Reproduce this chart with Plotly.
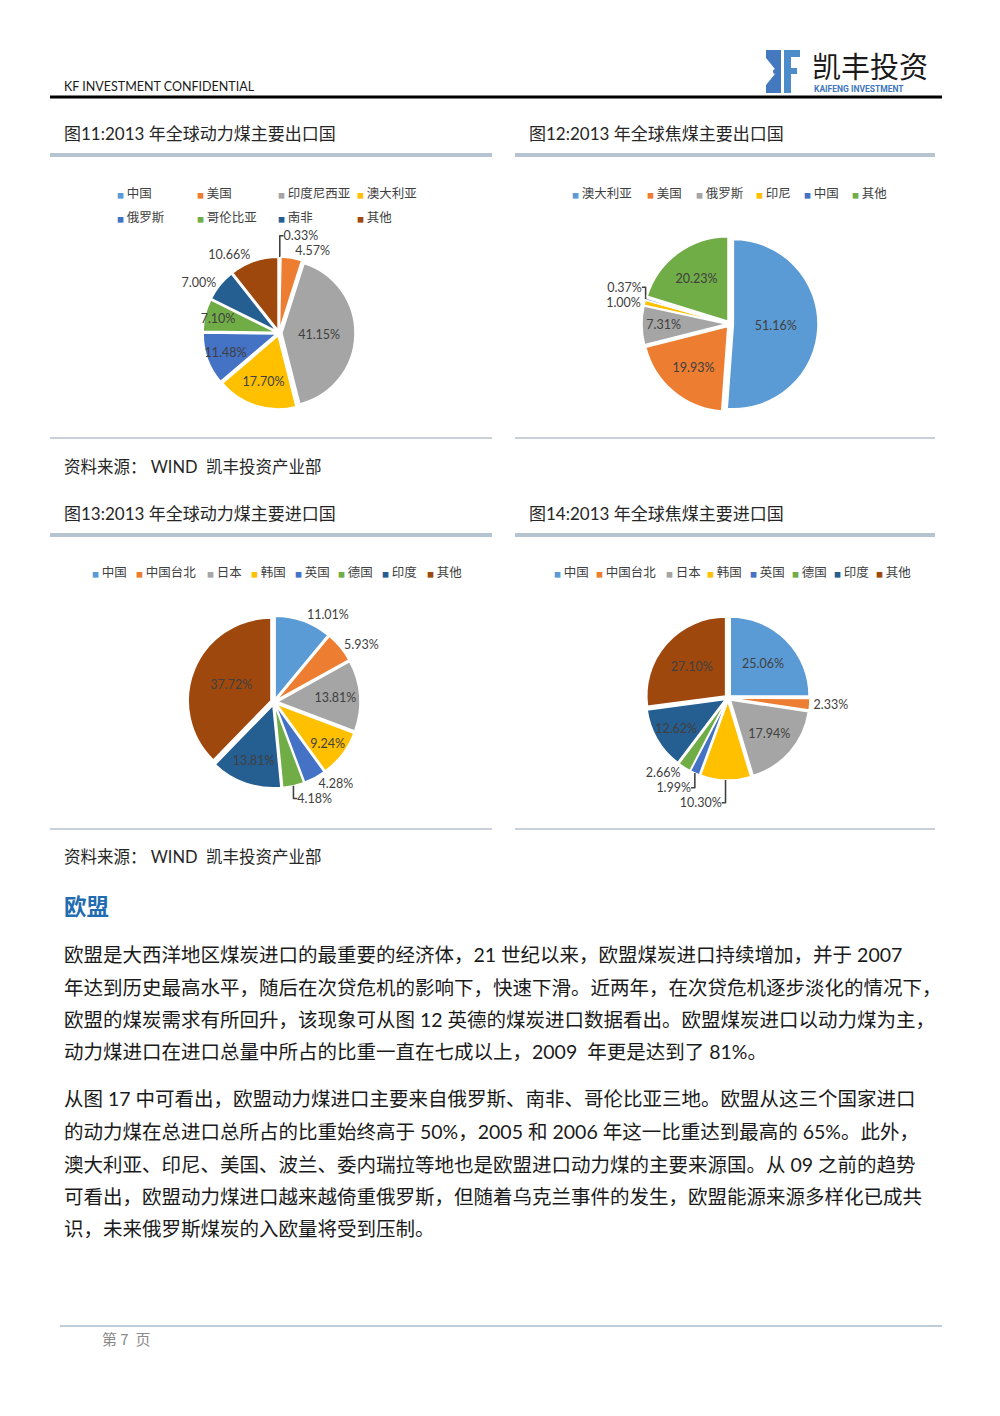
import plotly.graph_objects as go

# page is shown with the browser's 8px body margin, so the figure is 984x1400 at offset 8,8
OFF = 8
W, H = 984, 1400

# ---------------- data ----------------
exp_steam_labels = ["中国", "美国", "印度尼西亚", "澳大利亚", "俄罗斯", "哥伦比亚", "南非", "其他"]
exp_steam_values = [0.33, 4.57, 41.15, 17.70, 11.48, 7.10, 7.00, 10.66]

exp_coking_labels = ["澳大利亚", "美国", "俄罗斯", "印尼", "中国", "其他"]
exp_coking_values = [51.16, 19.93, 7.31, 1.00, 0.37, 20.23]

imp_labels = ["中国", "中国台北", "日本", "韩国", "英国", "德国", "印度", "其他"]
imp_steam_values = [11.01, 5.93, 13.81, 9.24, 4.28, 4.18, 13.81, 37.72]
imp_coking_values = [25.06, 2.33, 17.94, 10.30, 1.99, 2.66, 12.62, 27.10]

titles = ["图11:2013 年全球动力煤主要出口国", "图12:2013 年全球焦煤主要出口国",
          "图13:2013 年全球动力煤主要进口国", "图14:2013 年全球焦煤主要进口国"]
source_text = "资料来源：&nbsp;WIND&nbsp; 凯丰投资产业部"
heading = "欧盟"
para1 = [
    "欧盟是大西洋地区煤炭进口的最重要的经济体，21 世纪以来，欧盟煤炭进口持续增加，并于 2007",
    "年达到历史最高水平，随后在次贷危机的影响下，快速下滑。近两年，在次贷危机逐步淡化的情况下，",
    "欧盟的煤炭需求有所回升，该现象可从图 12 英德的煤炭进口数据看出。欧盟煤炭进口以动力煤为主，",
    "动力煤进口在进口总量中所占的比重一直在七成以上，2009&nbsp; 年更是达到了 81%。",
]
para2 = [
    "从图 17 中可看出，欧盟动力煤进口主要来自俄罗斯、南非、哥伦比亚三地。欧盟从这三个国家进口",
    "的动力煤在总进口总所占的比重始终高于 50%，2005 和 2006 年这一比重达到最高的 65%。此外，",
    "澳大利亚、印尼、美国、波兰、委内瑞拉等地也是欧盟进口动力煤的主要来源国。从 09 之前的趋势",
    "可看出，欧盟动力煤进口越来越倚重俄罗斯，但随着乌克兰事件的发生，欧盟能源来源多样化已成共",
    "识，未来俄罗斯煤炭的入欧量将受到压制。",
]

# ---------------- styles ----------------
PALETTE = ["#5B9BD5", "#ED7D31", "#A5A5A5", "#FFC000", "#4472C4", "#70AD47", "#255E91", "#9E480E"]
LATIN = "Lato, 'Noto Sans CJK SC', sans-serif"
CJK = "'Noto Sans CJK SC', sans-serif"
TXT = "#262626"


def px(x):
    return (x - OFF) / W


def py(y):
    return 1 - (y - OFF) / H


def domain(cx, cy, half):
    return dict(x=[px(cx - half), px(cx + half)], y=[py(cy + half), py(cy - half)])


fig = go.Figure()

pies = [
    (exp_steam_labels, exp_steam_values, (279, 333, 76),
     ["outside", "outside", "inside", "inside", "inside", "inside", "outside", "outside"]),
    (exp_coking_labels, exp_coking_values, (730, 324, 88),
     ["inside", "inside", "inside", "outside", "outside", "inside"]),
    (imp_labels, imp_steam_values, (274, 702, 86),
     ["outside", "outside", "inside", "inside", "outside", "outside", "inside", "inside"]),
    (imp_labels, imp_coking_values, (728, 698, 82),
     ["inside", "outside", "inside", "outside", "outside", "outside", "inside", "inside"]),
]

for labels, values, (cx, cy, half), tpos in pies:
    fig.add_trace(go.Pie(
        labels=labels, values=values,
        text=[f"{v:.2f}%" for v in values], textinfo="text",
        textposition=tpos, insidetextorientation="horizontal",
        sort=False, direction="clockwise", rotation=0,
        pull=[0.04] * len(values),
        marker=dict(colors=PALETTE[:len(values)], line=dict(color="white", width=1.5)),
        textfont=dict(family=LATIN, size=12.5, color="#404040"),
        insidetextfont=dict(family=LATIN, size=12.5, color="#404040"),
        outsidetextfont=dict(family=LATIN, size=12.5, color="#404040"),
        domain=domain(cx, cy, half), showlegend=False, hoverinfo="label+text",
        automargin=False,
    ))

annotations = []
shapes = []


def text(x, y, s, size, color=TXT, family=CJK, anchor="left", bold=False):
    if bold:
        s = f"<b>{s}</b>"
    annotations.append(dict(x=px(x), y=py(y), xref="paper", yref="paper", text=s,
                            showarrow=False, xanchor=anchor, yanchor="middle",
                            font=dict(size=size, color=color, family=family)))


def hline(x0, x1, y, width, color):
    shapes.append(dict(type="line", xref="paper", yref="paper", x0=px(x0), x1=px(x1),
                       y0=py(y), y1=py(y), line=dict(color=color, width=width)))


def rect(x0, y0, x1, y1, color):
    shapes.append(dict(type="rect", xref="paper", yref="paper", x0=px(x0), x1=px(x1),
                       y0=py(y1), y1=py(y0), fillcolor=color, line=dict(width=0)))


# ---------------- header ----------------
text(62, 87, "KF INVESTMENT CONFIDENTIAL", 12.5, "#1a1a1a", LATIN)
hline(50, 942, 97, 3, "#000000")
# logo
rect(766, 50, 781, 93, "#4479C0")
shapes.append(dict(type="path", xref="paper", yref="paper",
                   path=f"M {px(766)},{py(58)} L {px(777)},{py(71.5)} L {px(766)},{py(85)} Z",
                   fillcolor="white", line=dict(width=0)))
shapes.append(dict(type="circle", xref="paper", yref="paper", x0=px(773), x1=px(778),
                   y0=py(74), y1=py(69), fillcolor="#4479C0", line=dict(width=0)))
rect(784, 50, 791, 93, "#4D8CCB")
rect(784, 50, 800, 57, "#4D8CCB")
rect(784, 68, 797, 74, "#4D8CCB")
text(810, 65, "凯丰投资", 29, "#1a1a1a", CJK)
text(812, 89, "<b>KAIFENG INVESTMENT</b>", 8.5, "#3F78C0", "Roboto, sans-serif")

# ---------------- panel frames ----------------
panel_titles_pos = [(62, 133), (527, 133), (62, 513), (527, 513)]
for t, (x, y) in zip(titles, panel_titles_pos):
    text(x, y, t, 17, TXT, LATIN)

for ytop, ybot in [(155, 438), (535, 829)]:
    hline(50, 492, ytop, 4, "#B6C3D1")
    hline(515, 935, ytop, 4, "#B6C3D1")
    hline(50, 492, ybot, 2, "#C9D0D8")
    hline(515, 935, ybot, 2, "#C9D0D8")

text(62, 467, source_text, 16.5, TXT, LATIN)
text(62, 857, source_text, 16.5, TXT, LATIN)

# ---------------- legends ----------------
legend_layout = [
    (exp_steam_labels, [(118, 192), (198, 192), (279, 192), (358, 192),
                        (118, 217), (198, 217), (279, 217), (358, 217)]),
    (exp_coking_labels, [(573, 192), (648, 192), (697, 192), (757, 192), (805, 192), (853, 192)]),
    (imp_labels, [(93, 572), (137, 572), (208, 572), (252, 572), (296, 572), (339, 572),
                  (383, 572), (428, 572)]),
    (imp_labels, [(555, 572), (597, 572), (667, 572), (708, 572), (751, 572), (793, 572),
                  (835, 572), (877, 572)]),
]
for labels, positions in legend_layout:
    for i, (lab, (x, y)) in enumerate(zip(labels, positions)):
        s = f'<span style="color:{PALETTE[i]};font-size:7px">■</span> {lab}'
        text(x - 3, y, s, 12.5, "#404040", CJK)

# ---------------- body text ----------------
text(62, 905, heading, 22.5, "#1F6CB0", CJK, bold=True)
for line, y in zip(para1, [955, 987, 1019, 1051]):
    text(62, y, line, 19.5, "#1a1a1a", LATIN)
for line, y in zip(para2, [1098, 1131, 1164, 1196, 1228]):
    text(62, y, line, 19.5, "#1a1a1a", LATIN)

# ---------------- footer ----------------
hline(60, 942, 1326, 1, "#7F9DB3")
text(100, 1338, "第 7&nbsp; 页", 15, "#8a8a8a", CJK)

fig.update_layout(width=W, height=H, margin=dict(l=0, r=0, t=0, b=0),
                  paper_bgcolor="white", plot_bgcolor="white", showlegend=False,
                  uniformtext=dict(minsize=12.5, mode="show"),
                  annotations=annotations, shapes=shapes)

fig.write_html("out.html")
